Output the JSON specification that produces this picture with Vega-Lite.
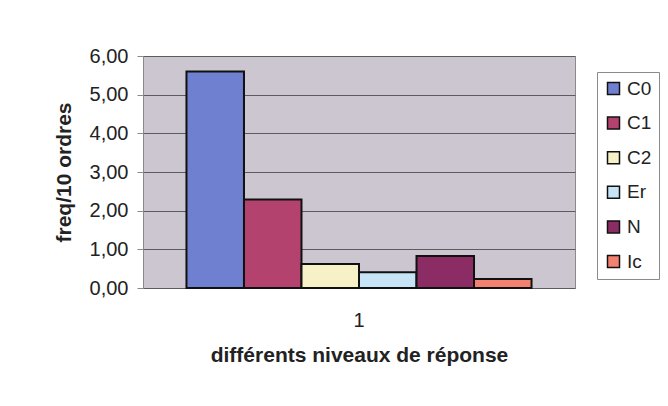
{
  "$schema": "https://vega.github.io/schema/vega-lite/v6.json",
  "width": 432,
  "height": 232,
  "autosize": {"type": "none"},
  "padding": {"left": 143, "top": 56, "right": 93, "bottom": 118},
  "background": "white",
  "config": {
    "font": "Liberation Sans",
    "view": {"fill": "#cbc6cf", "stroke": "#8a8a8a", "strokeWidth": 1}
  },
  "data": {
    "values": [
      {"niveau": "1", "serie": "C0", "freq": 5.60},
      {"niveau": "1", "serie": "C1", "freq": 2.29},
      {"niveau": "1", "serie": "C2", "freq": 0.62},
      {"niveau": "1", "serie": "Er", "freq": 0.41},
      {"niveau": "1", "serie": "N", "freq": 0.83},
      {"niveau": "1", "serie": "Ic", "freq": 0.23}
    ]
  },
  "mark": {"type": "bar", "stroke": "#111111", "strokeWidth": 2},
  "encoding": {
    "x": {
      "field": "niveau",
      "type": "nominal",
      "scale": {"paddingInner": 0, "paddingOuter": 0.126},
      "axis": {
        "title": "différents niveaux de réponse",
        "labelAngle": 0,
        "ticks": false,
        "domain": false,
        "labelFontSize": 20,
        "labelPadding": 22,
        "labelColor": "#222222",
        "titleFontSize": 21,
        "titleFontWeight": "bold",
        "titleColor": "#222222",
        "titlePadding": 14
      }
    },
    "xOffset": {
      "field": "serie",
      "type": "nominal",
      "sort": ["C0", "C1", "C2", "Er", "N", "Ic"],
      "scale": {"paddingInner": 0, "paddingOuter": 0}
    },
    "y": {
      "field": "freq",
      "type": "quantitative",
      "scale": {"domain": [0, 6], "nice": false},
      "axis": {
        "title": "freq/10 ordres",
        "values": [0, 1, 2, 3, 4, 5, 6],
        "labelExpr": "replace(format(datum.value, '.2f'), '.', ',')",
        "grid": true,
        "gridColor": "#5c5b62",
        "gridWidth": 1,
        "gridOpacity": 1,
        "domainColor": "#8a8a8a",
        "tickColor": "#8a8a8a",
        "tickSize": 6,
        "labelPadding": 9,
        "labelFontSize": 20,
        "labelColor": "#222222",
        "titleFontSize": 21,
        "titleFontWeight": "bold",
        "titleColor": "#222222",
        "titlePadding": 15
      }
    },
    "color": {
      "field": "serie",
      "type": "nominal",
      "sort": ["C0", "C1", "C2", "Er", "N", "Ic"],
      "scale": {
        "domain": ["C0", "C1", "C2", "Er", "N", "Ic"],
        "range": ["#7080d0", "#b4426e", "#f6f1c6", "#c6e4f6", "#8c2c64", "#f2826f"]
      },
      "legend": {
        "orient": "none",
        "legendX": 454,
        "legendY": 16,
        "title": null,
        "fillColor": "white",
        "strokeColor": "#8a8a8a",
        "padding": 7,
        "symbolType": "square",
        "symbolSize": 144,
        "symbolStrokeColor": "#111111",
        "symbolStrokeWidth": 1.5,
        "symbolOpacity": 1,
        "labelFontSize": 19,
        "labelColor": "#222222",
        "labelOffset": 4,
        "rowPadding": 14.6
      }
    }
  }
}
